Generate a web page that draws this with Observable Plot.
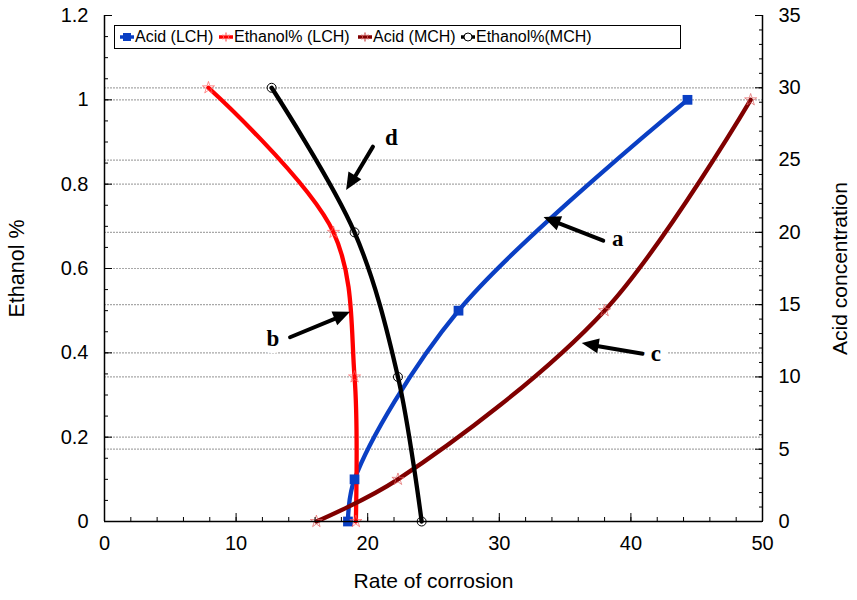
<!DOCTYPE html>
<html><head><meta charset="utf-8">
<script src="https://cdn.jsdelivr.net/npm/d3@7"></script>
<script src="https://cdn.jsdelivr.net/npm/@observablehq/plot@0.6"></script>
<style>
body{margin:0;background:#fff;font-family:"Liberation Sans",Arial,sans-serif;}
#wrap{position:relative;width:857px;height:600px;}
#legend{position:absolute;left:114px;top:25px;width:565px;height:22px;border:1px solid #000;background:#fff;font-size:16px;color:#000;}
.item{position:absolute;top:0;height:22px;display:flex;align-items:center;white-space:nowrap;}
.item svg{margin-right:1px;}
</style></head><body><div id="wrap"><div id="legend"></div></div>
<script>
// ---- data (x = rate of corrosion) ----
const seriesNames = ["Acid (LCH)", "Ethanol% (LCH)", "Acid (MCH)", "Ethanol%(MCH)"];
const rateAcidLCH = [18.5, 19.0, 26.9, 44.3];
const acidLCH     = [0, 0.1, 0.5, 1.0];           // left axis units
const rateEthLCH  = [7.9, 17.4, 19.0, 19.1];
const ethLCH      = [30, 20, 10, 0];               // right axis units
const rateAcidMCH = [16.1, 22.3, 38.0, 49.1];
const acidMCH     = [0, 0.1, 0.5, 1.0];
const rateEthMCH  = [12.7, 19.0, 22.3, 24.1];
const ethMCH      = [30, 20, 10, 0];

const xTicks = [0, 10, 20, 30, 40, 50];
const leftTicks = [0, 0.2, 0.4, 0.6, 0.8, 1, 1.2];
const rightTicks = [0, 5, 10, 15, 20, 25, 30, 35];

// annotations (label, tail, head)
const annLabel = ["a", "b", "c", "d"];
const annTextX = [39.0, 12.8, 41.9, 21.8];
const annTextY = [0.671, 0.434, 0.398, 0.911];
const annTailX = [37.9, 14.1, 40.9, 20.4];
const annTailY = [0.666, 0.437, 0.398, 0.889];
const annHeadX = [33.4, 18.7, 36.3, 18.4];
const annHeadY = [0.721, 0.496, 0.422, 0.785];

// ---- build ----
const LEFT_MAX = 1.2, RIGHT_MAX = 35;
const toLeft = v => v * LEFT_MAX / RIGHT_MAX;
const colors = ["#0a3fc4", "#ff0000", "#800000", "#000000"];

const rows = [];
rateAcidLCH.forEach((x, i) => rows.push({s: 0, x, y: acidLCH[i]}));
rateEthLCH.forEach((x, i) => rows.push({s: 1, x, y: toLeft(ethLCH[i])}));
rateAcidMCH.forEach((x, i) => rows.push({s: 2, x, y: acidMCH[i]}));
rateEthMCH.forEach((x, i) => rows.push({s: 3, x, y: toLeft(ethMCH[i])}));
const ser = k => rows.filter(d => d.s === k);

const ann = annLabel.map((t, i) => ({t, tx: annTextX[i], ty: annTextY[i], x1: annTailX[i], y1: annTailY[i], x2: annHeadX[i], y2: annHeadY[i]}));

const gridVals = leftTicks.filter(v => v > 0 && v < 1.2).concat(rightTicks.filter(v => v > 0 && v < 35).map(toLeft));

// filled arrow heads drawn through the plot's scales
function arrowHeads(index, scales) {
  const g = d3.create("svg:g");
  ann.forEach(d => {
    const hx = scales.x(d.x2), hy = scales.y(d.y2), tx = scales.x(d.x1), ty = scales.y(d.y1);
    const a = Math.atan2(hy - ty, hx - tx);
    const L = 17, W = 7.5;
    const bx = hx - L * Math.cos(a), by = hy - L * Math.sin(a);
    const px = -Math.sin(a) * W, py = Math.cos(a) * W;
    g.append("path").attr("d", `M${hx},${hy}L${bx + px},${by + py}L${bx - px},${by - py}Z`).attr("fill", "#000");
  });
  return g.node();
}

const plot = Plot.plot({
  width: 857, height: 600,
  marginLeft: 104, marginRight: 95, marginTop: 15, marginBottom: 79,
  style: {fontFamily: "Liberation Sans, Arial, sans-serif", fontSize: "20px", color: "#000", background: "#fff"},
  x: {domain: [0, 50]},
  y: {domain: [0, 1.2]},
  marks: [
    Plot.ruleY(gridVals, {stroke: "#a8a8a8", strokeWidth: 1.2, strokeDasharray: "2,1"}),
    // lines
    ...[0, 1, 2, 3].map(k => Plot.line(ser(k), {x: "x", y: "y", stroke: colors[k], strokeWidth: 4.3, curve: "catmull-rom"})),
    // markers
    Plot.dot(ser(0), {x: "x", y: "y", symbol: "square", r: 5.5, fill: colors[0]}),
    Plot.dot(ser(1), {x: "x", y: "y", symbol: "star", r: 3.8, fill: "none", stroke: "#ff6060", strokeWidth: 0.7}),
    Plot.dot(ser(2), {x: "x", y: "y", symbol: "star", r: 3.8, fill: "none", stroke: "#e06060", strokeWidth: 0.7}),
    Plot.dot(ser(3), {x: "x", y: "y", symbol: "circle", r: 4.5, fill: "white", fillOpacity: 0, stroke: "#000", strokeWidth: 1}),
    // frame lines
    Plot.ruleX([0, 50], {stroke: "#000", strokeWidth: 1.5}),
    Plot.ruleY([0], {stroke: "#000", strokeWidth: 1.5}),
    // x axis
    Plot.axisX(d3.range(0, 51, 2), {tickSize: 4, dy: -4, tickFormat: () => "", label: null}),
    Plot.axisX(xTicks, {tickSize: 8, dy: -8, tickFormat: () => "", label: null}),
    Plot.axisX(xTicks, {tickSize: 0, tickPadding: 14, tickFormat: d => String(d), label: null}),
    Plot.axisX(xTicks, {tickSize: 0, tickFormat: () => "", fontSize: 21, label: "Rate of corrosion", labelAnchor: "center", labelOffset: 66, labelArrow: "none"}),
    // left axis
    Plot.axisY(d3.range(0, 25).map(i => i * 0.05), {anchor: "left", tickSize: 4, dx: 4, tickFormat: () => "", label: null}),
    Plot.axisY(leftTicks, {anchor: "left", tickSize: 8, dx: 8, tickFormat: () => "", label: null}),
    Plot.axisY(leftTicks, {anchor: "left", tickSize: 0, tickPadding: 16, tickFormat: d => String(d), label: null}),
    Plot.axisY(leftTicks, {anchor: "left", tickSize: 0, tickFormat: () => "", fontSize: 21.5, label: "Ethanol %", labelAnchor: "center", labelOffset: 96, labelArrow: "none"}),
    // right axis
    Plot.axisY(d3.range(0, 36).map(toLeft), {anchor: "right", tickSize: 4, dx: -4, tickFormat: () => "", label: null}),
    Plot.axisY(rightTicks.map(toLeft), {anchor: "right", tickSize: 8, dx: -8, tickFormat: () => "", label: null}),
    Plot.axisY(rightTicks.map(toLeft), {anchor: "right", tickSize: 0, tickPadding: 16, tickFormat: d => String(Math.round(d * RIGHT_MAX / LEFT_MAX)), label: null}),
    Plot.axisY(rightTicks.map(toLeft), {anchor: "right", tickSize: 0, tickFormat: () => "", fontSize: 21, label: "Acid concentration", labelAnchor: "center", labelOffset: 84, labelArrow: "none"}),
    // annotations
    Plot.arrow(ann, {x1: "x1", y1: "y1", x2: "x2", y2: "y2", stroke: "#000", strokeWidth: 4, headLength: 0, insetEnd: 12}),
    arrowHeads,
    Plot.text(ann, {x: "tx", y: "ty", text: "t", fontFamily: "Liberation Serif, Times New Roman, serif", fontWeight: "bold", fontSize: 23, fill: "#000", stroke: "#fff", strokeWidth: 14})
  ]
});
document.getElementById("wrap").prepend(plot);

// legend
const lg = document.getElementById("legend");
const lgLeft = [5, 104, 243, 346];
seriesNames.forEach((name, k) => {
  const it = document.createElement("div");
  it.className = "item";
  it.style.left = lgLeft[k] + "px";
  let marker = "";
  if (k === 0) marker = `<rect x="3" y="2" width="8" height="8" fill="${colors[0]}"/>`;
  if (k === 1 || k === 2) marker = `<path d="M7,1.5 L8,4.5 L11,4 L9,6 L11,8 L8,7.5 L7,10.5 L6,7.5 L3,8 L5,6 L3,4 L6,4.5Z" fill="none" stroke="${k===1?'#ff7070':'#d06060'}" stroke-width="0.8"/>`;
  if (k === 3) marker = `<circle cx="7" cy="6" r="4" fill="#fff" stroke="#000" stroke-width="1"/>`;
  it.innerHTML = `<svg width="14" height="12"><line x1="0" y1="6" x2="14" y2="6" stroke="${colors[k]}" stroke-width="3.5"/>${marker}</svg><span>${name}</span>`;
  lg.appendChild(it);
});
</script>
</body></html>
